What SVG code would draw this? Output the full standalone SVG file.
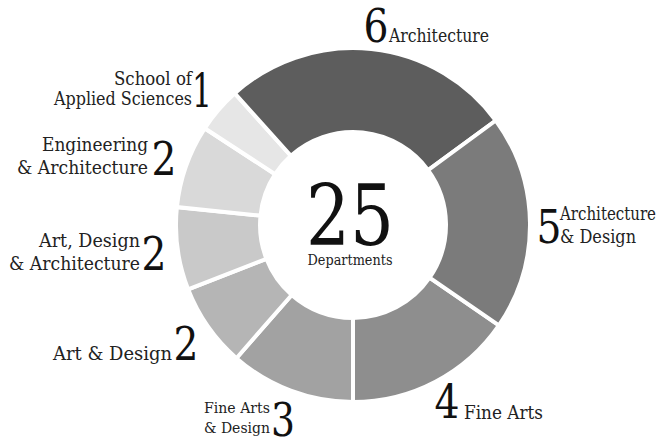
<svg xmlns="http://www.w3.org/2000/svg" width="658" height="442" viewBox="0 0 658 442">
<style>
.seg{stroke:#fff;stroke-width:4;stroke-linejoin:miter}
.t{fill:#222}
.lbl{font-size:18px}
.sm{font-size:15.5px}
.num{font-size:46px;fill:#111;text-anchor:middle}
.e{text-anchor:end}
</style>
<rect width="658" height="442" fill="#fff"/>
<g id="segments">
<g id="fine-arts"><path class="seg" fill="#8e8e8e" d="M 498.9 325.3 A 177 177 0 0 1 353 402 L 353 318 A 93 93 0 0 0 429.6 277.7 Z"/></g>
<g id="fine-arts-design"><path class="seg" fill="#a2a2a2" d="M 353 402 A 177 177 0 0 1 236.4 358.2 L 291.7 295.0 A 93 93 0 0 0 353 318 Z"/></g>
<g id="art-design"><path class="seg" fill="#b5b5b5" d="M 236.4 358.2 A 177 177 0 0 1 188.1 289.3 L 266.4 258.8 A 93 93 0 0 0 291.7 295.0 Z"/></g>
<g id="art-design-architecture"><path class="seg" fill="#c9c9c9" d="M 188.1 289.3 A 177 177 0 0 1 176.9 207.1 L 260.5 215.6 A 93 93 0 0 0 266.4 258.8 Z"/></g>
<g id="engineering-architecture"><path class="seg" fill="#d9d9d9" d="M 176.9 207.1 A 177 177 0 0 1 204.7 128.3 L 275.1 174.2 A 93 93 0 0 0 260.5 215.6 Z"/></g>
<g id="applied-sciences"><path class="seg" fill="#e6e6e6" d="M 204.7 128.3 A 177 177 0 0 1 234.8 93.3 L 290.9 155.8 A 93 93 0 0 0 275.1 174.2 Z"/></g>
<g id="architecture"><path class="seg" fill="#5d5d5d" d="M 234.8 93.3 A 177 177 0 0 1 495.8 120.5 L 428.1 170.1 A 93 93 0 0 0 290.9 155.8 Z"/></g>
<g id="architecture-design"><path class="seg" fill="#7b7b7b" d="M 495.8 120.5 A 177 177 0 0 1 498.9 325.3 L 429.6 277.7 A 93 93 0 0 0 428.1 170.1 Z"/></g>
</g>
<g font-family="DejaVu Serif, Liberation Serif, serif" class="t">
<g id="center">
<text x="350" y="245" text-anchor="middle" font-size="85" fill="#111" textLength="88" lengthAdjust="spacingAndGlyphs">25</text>
<text x="350" y="265" text-anchor="middle" font-size="14.5" textLength="85" lengthAdjust="spacingAndGlyphs">Departments</text>
</g>
<g id="labels">
<g id="lbl-architecture"><text class="num" x="376" y="42" textLength="25" lengthAdjust="spacingAndGlyphs">6</text><text class="lbl" x="389" y="42" textLength="100" lengthAdjust="spacingAndGlyphs">Architecture</text></g>
<g id="lbl-applied-sciences"><text class="lbl e" x="192" y="85" textLength="78" lengthAdjust="spacingAndGlyphs">School of</text><text class="lbl e" x="192" y="105" textLength="138" lengthAdjust="spacingAndGlyphs">Applied Sciences</text><text class="num" x="202" y="107" textLength="20" lengthAdjust="spacingAndGlyphs">1</text></g>
<g id="lbl-engineering"><text class="lbl e" x="148" y="151" textLength="106" lengthAdjust="spacingAndGlyphs">Engineering</text><text class="lbl e" x="148" y="174" textLength="131" lengthAdjust="spacingAndGlyphs">&amp; Architecture</text><text class="num" x="164" y="175" textLength="25" lengthAdjust="spacingAndGlyphs">2</text></g>
<g id="lbl-ada"><text class="lbl e" x="140" y="247" textLength="101" lengthAdjust="spacingAndGlyphs">Art, Design</text><text class="lbl e" x="140" y="270" textLength="131" lengthAdjust="spacingAndGlyphs">&amp; Architecture</text><text class="num" x="154" y="270" textLength="25" lengthAdjust="spacingAndGlyphs">2</text></g>
<g id="lbl-art-design"><text class="lbl e" x="172" y="360" textLength="119" lengthAdjust="spacingAndGlyphs">Art &amp; Design</text><text class="num" x="186" y="360" textLength="25" lengthAdjust="spacingAndGlyphs">2</text></g>
<g id="lbl-fad"><text class="sm e" x="270" y="413" textLength="66" lengthAdjust="spacingAndGlyphs">Fine Arts</text><text class="sm e" x="270" y="433" textLength="66" lengthAdjust="spacingAndGlyphs">&amp; Design</text><text class="num" x="283" y="436" textLength="24" lengthAdjust="spacingAndGlyphs">3</text></g>
<g id="lbl-fine-arts"><text class="num" x="447" y="418" textLength="25" lengthAdjust="spacingAndGlyphs">4</text><text class="lbl" x="464" y="419" textLength="79" lengthAdjust="spacingAndGlyphs">Fine Arts</text></g>
<g id="lbl-arch-design"><text class="num" x="549" y="243" textLength="25" lengthAdjust="spacingAndGlyphs">5</text><text class="lbl" x="560" y="220" textLength="96" lengthAdjust="spacingAndGlyphs">Architecture</text><text class="lbl" x="560" y="243" textLength="76" lengthAdjust="spacingAndGlyphs">&amp; Design</text></g>
</g>
</g>
</svg>
